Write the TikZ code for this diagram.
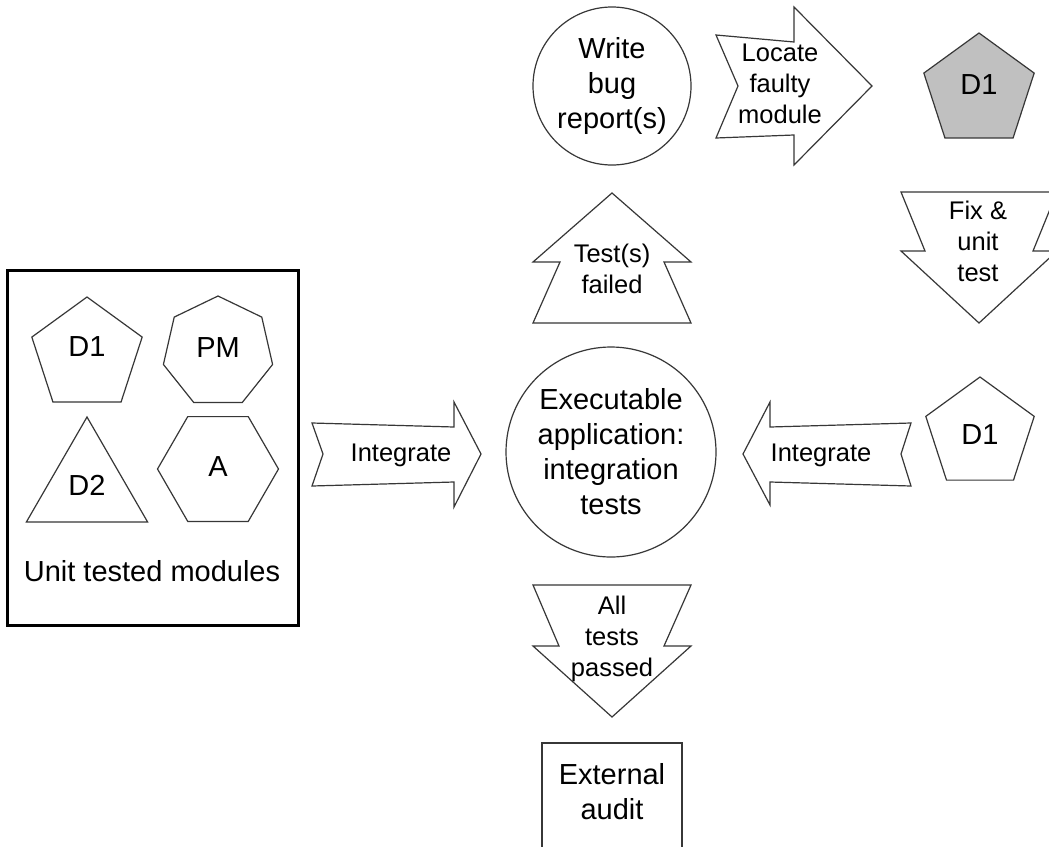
\documentclass[tikz,border=0pt]{standalone}
\usepackage{fontspec}
\setmainfont{Liberation Sans}
\usetikzlibrary{shapes.geometric}
\definecolor{linegray}{RGB}{55,55,55}
\definecolor{fillgray}{RGB}{192,192,192}
\tikzset{
  big/.style={font=\fontsize{29}{35}\selectfont, align=center, inner sep=0pt},
  small/.style={font=\fontsize{25.5}{31}\selectfont, align=center, inner sep=0pt},
  outline/.style={draw=linegray, line width=1.2pt, line join=miter},
  bubble/.style={outline, circle, big},
  module/.style={outline, regular polygon, inner sep=0pt},
}

\begin{document}
\begin{tikzpicture}[x=1pt,y=-1pt]
  \useasboundingbox (0,0) rectangle (1049,846);
  \clip (0,0) rectangle (1049,846);
  \fill[white] (0,0) rectangle (1049,846);

  \draw[line width=3pt] (7,270) rectangle (298,625);
  \node[module, regular polygon sides=5, minimum size=116pt] (modD1) at (87,355) {};
  \node[module, regular polygon sides=7, minimum size=112pt] (modPM) at (218,352) {};
  \node[module, regular polygon sides=3, minimum size=140pt] (modD2) at (87,487) {};
  \node[module, regular polygon sides=6, minimum size=121pt] (modA) at (218,469) {};
  \node[big] (labD1) at (87,347) {D1};
  \node[big] (labPM) at (218,348) {PM};
  \node[big] (labD2) at (87,485) {D2};
  \node[big] (labA) at (218,467) {A};
  \node[big] (unitlab) at (152,571) {Unit tested modules};

  \draw[outline] (312,423) -- (454,427) -- (454,402) -- (481,454) -- (454,507) -- (454,482) -- (312,486) -- (323,454) -- cycle;
  \node[small] (intleft) at (401,455) {Integrate};

  \node[bubble, minimum size=210pt] (app) at (611,452) {Executable\\application:\\integration\\tests};
  \node[bubble, minimum size=158pt] (report) at (612,86) {Write\\bug\\report(s)};

  \draw[outline] (533,323) -- (560,262) -- (533,262) -- (612,193) -- (691,262) -- (664,262) -- (691,323) -- cycle;
  \node[small] (failed) at (612,269) {Test(s)\\failed};

  \draw[outline] (716,35) -- (794,42) -- (794,7) -- (872,86) -- (794,165) -- (794,135) -- (716,138) -- (738,86) -- cycle;
  \node[small] (locate) at (780,84) {Locate\\faulty\\module};

  \node[module, regular polygon sides=5, minimum size=116pt, fill=fillgray] (faulty) at (979,91) {};
  \node[big] (labfaulty) at (979,85) {D1};

  \draw[outline] (901,192) -- (1057,192) -- (1033,251) -- (1057,251) -- (979,323) -- (901,251) -- (925,251) -- cycle;
  \node[small] (fix) at (978,241) {Fix \&\\unit\\test};

  \node[module, regular polygon sides=5, minimum size=114pt] (fixed) at (980,434) {};
  \node[big] (labfixed) at (980,435) {D1};

  \draw[outline] (911,423) -- (770,427) -- (770,402) -- (743,454) -- (770,505) -- (770,482) -- (911,486) -- (901,454) -- cycle;
  \node[small] (intright) at (821,455) {Integrate};

  \draw[outline] (533,585) -- (691,585) -- (664,646) -- (691,646) -- (612,717) -- (533,646) -- (559,646) -- cycle;
  \node[small] (passed) at (612,639) {All\\tests\\passed};

  \draw[outline] (542,860) -- (542,743) -- (682,743) -- (682,860);
  \node[big] (audit) at (612,792) {External\\audit};
\end{tikzpicture}
\end{document}
